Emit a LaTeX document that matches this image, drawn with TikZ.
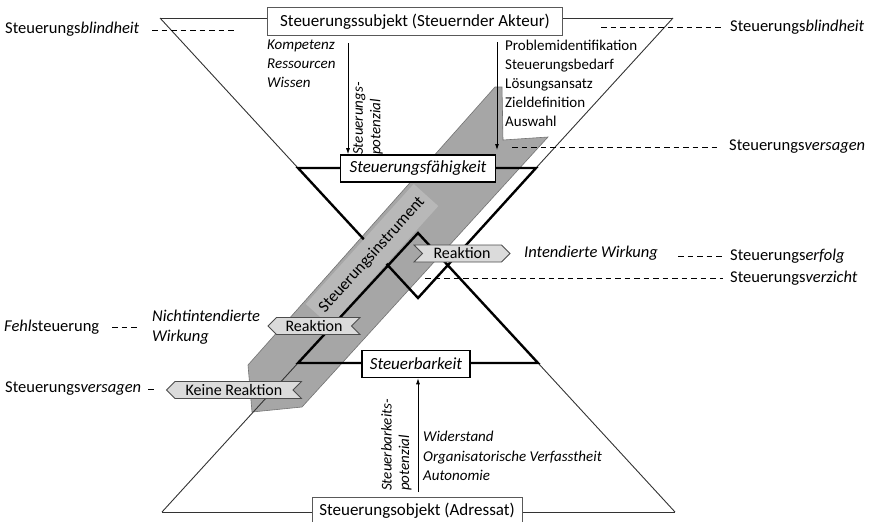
\documentclass[tikz,border=0pt]{standalone}
\usepackage{fontspec}
\setmainfont{Carlito}
\usetikzlibrary{shapes.symbols,arrows.meta}
\begin{document}
\begin{tikzpicture}[x=1pt,y=-1pt,
  thinl/.style={line width=0.9pt,draw=black!80},
  thickl/.style={line width=2.4pt,draw=black,line join=miter},
  dashl/.style={line width=0.9pt,draw=black,dash pattern=on 5.5pt off 4pt},
  plainbox/.style={font=\fontsize{17}{20}\selectfont,draw=black!65,line width=0.8pt,fill=white,minimum height=28pt,inner xsep=6pt},
  keybox/.style={font=\fontsize{17}{20}\selectfont\itshape,draw=black,line width=1.6pt,fill=white,minimum height=27pt,inner xsep=6pt},
  sig/.style={font=\fontsize{16}{19}\selectfont,signal,signal pointer angle=90,draw=black!70,fill=black!14,line width=0.8pt,inner xsep=3pt,inner ysep=0pt,minimum height=17pt},
  sigr/.style={sig,signal to=east,signal from=west},
  sigl/.style={sig,signal to=west,signal from=east},
  lbl/.style={font=\fontsize{16.5}{19}\selectfont,anchor=west,inner sep=0pt},
  lst/.style={font=\fontsize{15}{19}\selectfont,align=left,anchor=north west,inner sep=0pt},
  rot/.style={font=\fontsize{15}{17.5}\selectfont\itshape,rotate=90,anchor=north west,align=left,inner sep=0pt},
  arr/.style={-{Latex[length=6pt,width=4pt]},line width=0.8pt,draw=black}
]
\useasboundingbox (0,0) rectangle (876,522);

% geometry points
\coordinate (TL) at (160,18);
\coordinate (TR) at (673,18);
\coordinate (BL) at (162,512);
\coordinate (BR) at (675,512);
\coordinate (UL) at (298,168);
\coordinate (UR) at (536,168);
\coordinate (UA) at (418,298);
\coordinate (LL) at (298,363);
\coordinate (LR) at (538,363);
\coordinate (LA) at (418,233);

% band (Steuerungsinstrument)
\filldraw[fill=black!35,draw=black!55,line width=0.6pt]
  (495,87) -- (502,87) -- (503,140) -- (548,137) -- (302,407) -- (252,412) -- (248,365) -- cycle;

% thin outer lines
\draw[thinl] (TL) -- (TR);
\draw[thinl] (BL) -- (BR);
\draw[thinl] (TL) -- (UL);
\draw[thinl] (TR) -- (UR);
\draw[thinl] (BL) -- (LL);
\draw[thinl] (BR) -- (LR);

% thick inner triangles
\draw[thickl] (UL) -- (UA) -- (UR) -- cycle;
\draw[thickl] (LL) -- (LA) -- (LR) -- cycle;

% label strip
\node[rotate=48,fill=black!28,minimum height=33pt,inner xsep=6pt,font=\fontsize{16.5}{19}\selectfont] (instr) at (372,255) {Steuerungsinstrument};

% boxes
\node[plainbox,minimum width=295pt] (subj) at (415,21.5) {Steuerungssubjekt (Steuernder Akteur)};
\node[keybox,minimum width=155pt] (faeh) at (418,168.5) {Steuerungsfähigkeit};
\node[keybox,minimum width=108pt] (barkeit) at (416,364) {Steuerbarkeit};
\node[plainbox,minimum width=210pt] (obj) at (417,511) {Steuerungsobjekt (Adressat)};

% arrows
\coordinate (a1s) at (348,43);
\coordinate (a2s) at (497,42);
\coordinate (a2e) at (497,150);
\coordinate (a3s) at (418,492);
\draw[arr] (a1s) -- (faeh.north -| a1s);
\draw[arr] (a2s) -- (a2e);
\draw[arr] (a3s) -- (barkeit.south -| a3s);

% lists
\node[lst,font=\fontsize{15}{19}\selectfont\itshape] (kom) at (267,40) {Kompetenz\\Ressourcen\\Wissen};
\node[lst] (prob) at (505,40) {Problemidentifikation\\Steuerungsbedarf\\Lösungsansatz\\Zieldefinition\\Auswahl};
\node[lst,font=\fontsize{15}{19.5}\selectfont\itshape] (wid) at (423,431) {Widerstand\\Organisatorische Verfasstheit\\Autonomie};
\node[rot] (pot1) at (353,155) {Steuerungs-\\potenzial};
\node[rot] (pot2) at (381,491) {Steuerbarkeits-\\potenzial};

% reactions
\node[sigr,minimum width=96pt] (rk1) at (462,253.5) {Reaktion};
\node[sigl,minimum width=92pt] (rk2) at (314,326) {Reaktion};
\node[sigl,minimum width=135pt] (rk3) at (234,390) {Keine Reaktion};

% effect texts
\node[lbl,font=\fontsize{16.5}{19}\selectfont\itshape] (intw) at (524,253) {Intendierte Wirkung};
\node[lst,font=\fontsize{16.5}{20}\selectfont\itshape] (nintw) at (152,310) {Nichtintendierte\\Wirkung};

% left labels
\node[lbl] (lb1) at (5,29) {Steuerungs\textit{blindheit}};
\node[lbl] (lb2) at (4,327) {\textit{Fehl}steuerung};
\node[lbl] (lb3) at (5,389) {Steuerungs\textit{versagen}};

% right labels
\node[lbl] (rb1) at (730,27) {Steuerungs\textit{blindheit}};
\node[lbl] (rb2) at (729,147) {Steuerungs\textit{versagen}};
\node[lbl] (rb3) at (730,256) {Steuerungs\textit{erfolg}};
\node[lbl] (rb4) at (730,278) {Steuerungs\textit{verzicht}};

% dashed leaders
\coordinate (d1a) at (152,30); \coordinate (d1b) at (236,30);
\coordinate (d2a) at (112,327); \coordinate (d2b) at (139,327);
\coordinate (d3a) at (148,389); \coordinate (d3b) at (154,389);
\coordinate (d4a) at (601,27);
\coordinate (d5a) at (512,147);
\coordinate (d6a) at (678,256);
\coordinate (d7a) at (425,278);
\draw[dashl] (d1a) -- (d1b);
\draw[dashl] (d2a) -- (d2b);
\draw[dashl,dash pattern=on 6pt off 3pt] (d3a) -- (d3b);
\draw[dashl] (d4a) -- ([xshift=-7pt]rb1.west);
\draw[dashl] (d5a) -- ([xshift=-9pt]rb2.west);
\draw[dashl] (d6a) -- ([xshift=-7pt]rb3.west);
\draw[dashl] (d7a) -- ([xshift=-7pt]rb4.west);
\end{tikzpicture}
\end{document}
